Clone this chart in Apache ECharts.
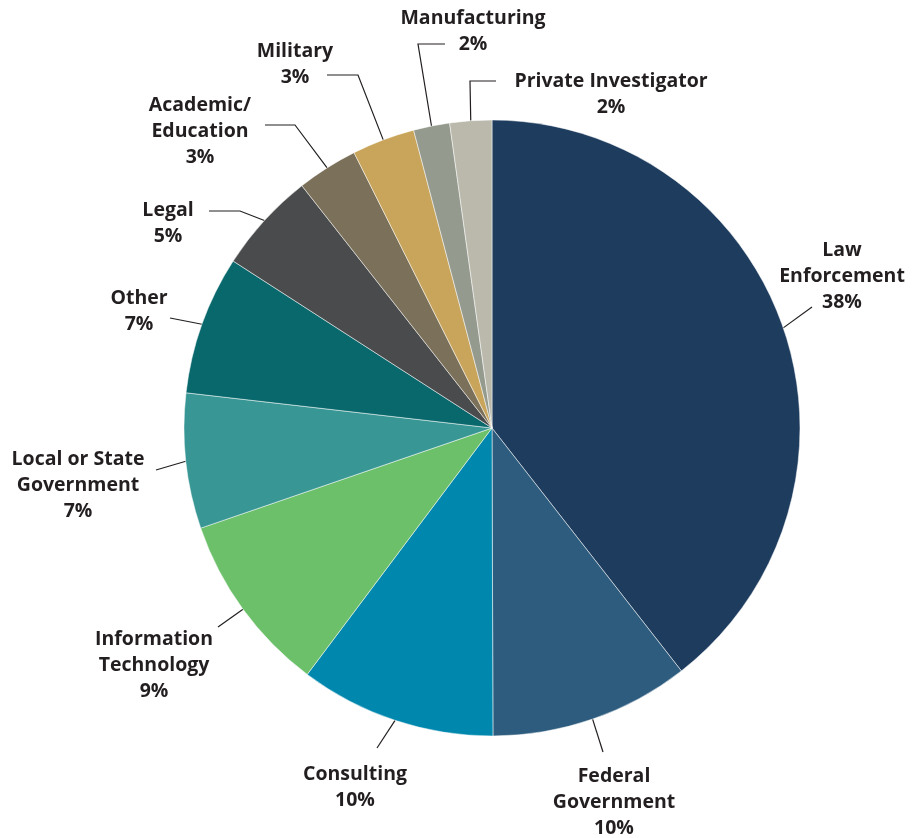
<!DOCTYPE html>
<html>
<head>
<meta charset="utf-8">
<script src="https://cdn.jsdelivr.net/npm/echarts@6/dist/echarts.min.js"></script>
<style>
html,body{margin:0;padding:0;background:#fff;}
#chart{width:924px;height:838px;}
</style>
</head>
<body>
<div id="chart"></div>
<script>
// ---- data ----
var categories = ["Law\nEnforcement", "Federal\nGovernment", "Consulting", "Information\nTechnology",
  "Local or State\nGovernment", "Other", "Legal", "Academic/\nEducation", "Military",
  "Manufacturing", "Private Investigator"];
var shares = [39.5, 10.5, 10.3, 9.5, 7.1, 7.3, 5.3, 3.2, 3.3, 1.9, 2.2];
var pctLabels = ["38%", "10%", "10%", "9%", "7%", "7%", "5%", "3%", "3%", "2%", "2%"];

// ---- styles ----
var colors = ["#1e3c5e", "#2d5c7e", "#0087ad", "#6cc06a", "#389794", "#08686c",
  "#4a4b4d", "#7b7059", "#c8a55a", "#959a8e", "#bab9ac"];
// label centre and leader-line elbow points (after the pie-edge start point)
var labelPlacement = [
  {x: 842, y: 276, pts: [[812, 307]]},
  {x: 614, y: 802, pts: [[603, 752]]},
  {x: 355, y: 787, pts: [[377, 748]]},
  {x: 154, y: 665, pts: [[218, 627]]},
  {x: 78,  y: 485, pts: [[156, 470]]},
  {x: 139, y: 311, pts: [[170, 318]]},
  {x: 168, y: 223, pts: [[240, 211], [209, 211]]},
  {x: 200, y: 131, pts: [[295, 125], [265, 125]]},
  {x: 295, y: 64,  pts: [[358, 75], [327, 75]]},
  {x: 473, y: 31,  pts: [[418, 44], [445, 44]]},
  {x: 611, y: 94,  pts: [[470, 81], [496, 81]]}
];

var data = categories.map(function (c, i) {
  return {name: c, value: shares[i], itemStyle: {color: colors[i]}};
});

var chart = echarts.init(document.getElementById('chart'), null, {renderer: 'canvas'});
chart.setOption({
  animation: false,
  backgroundColor: '#ffffff',
  series: [{
    type: 'pie',
    center: [492, 428],
    radius: 308,
    startAngle: 90,
    clockwise: true,
    data: data,
    itemStyle: {borderColor: '#ffffff', borderWidth: 0.5},
    label: {
      show: true,
      position: 'outside',
      formatter: function (p) { return p.name + '\n' + pctLabels[p.dataIndex]; },
      fontFamily: 'Open Sans',
      fontWeight: 'bold',
      fontSize: 19.5,
      lineHeight: 26,
      color: '#231f20',
      align: 'center',
      overflow: 'none',
      edgeDistance: 0
    },
    labelLine: {
      show: true,
      length: 10,
      length2: 10,
      lineStyle: {color: '#231f20', width: 1.2}
    },
    labelLayout: function (params) {
      var lp = labelPlacement[params.dataIndex];
      var start = params.labelLinePoints ? params.labelLinePoints[0] : null;
      var pts = start ? [start].concat(lp.pts) : lp.pts;
      return {
        x: lp.x,
        y: lp.y,
        align: 'center',
        verticalAlign: 'middle',
        labelLinePoints: pts
      };
    },
    emphasis: {disabled: true}
  }]
});
</script>
</body>
</html>
